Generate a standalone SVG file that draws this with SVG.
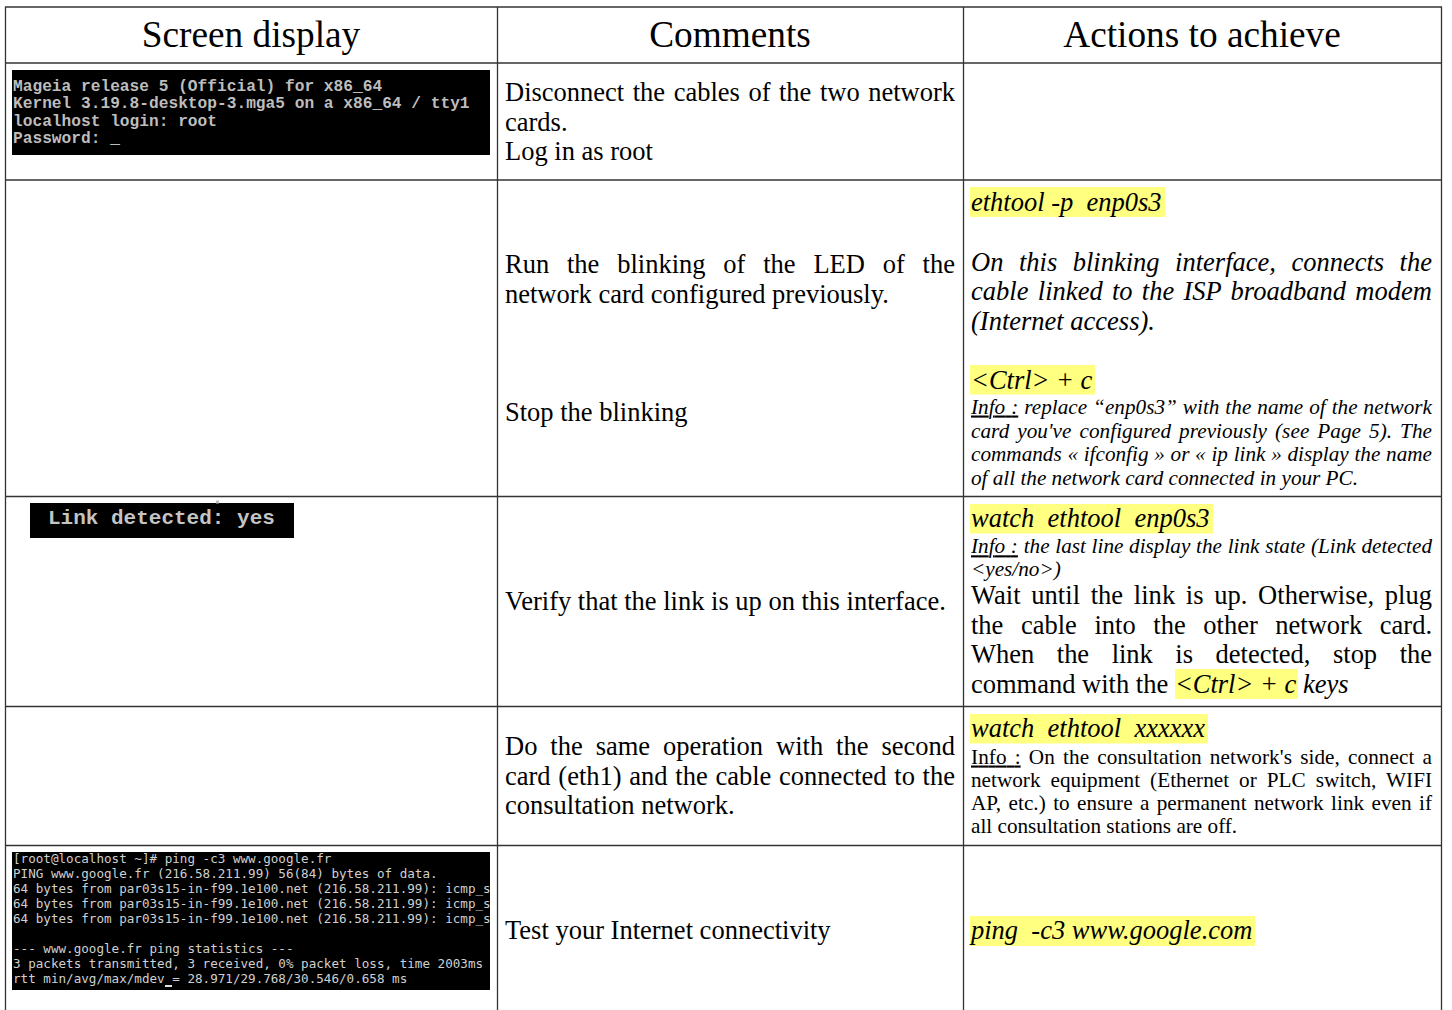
<svg xmlns="http://www.w3.org/2000/svg" width="1452" height="1010" viewBox="0 0 1452 1010">
<style>
.hd{font-family:"Liberation Serif",serif;font-size:37.3px;text-anchor:middle;fill:#000}
.b{font-family:"Liberation Serif",serif;font-size:26.5px;fill:#000}
.bi{font-family:"Liberation Serif",serif;font-size:26.5px;font-style:italic;fill:#000}
.s{font-family:"Liberation Serif",serif;font-size:21.2px;fill:#000}
.si{font-family:"Liberation Serif",serif;font-size:21.2px;font-style:italic;fill:#000}
.u{text-decoration:underline}
.it{font-style:italic}
.hl{fill:#ffff80}
.scr{fill:#000}
.t1{font-family:"Liberation Mono",monospace;font-size:16.2px;font-weight:bold;fill:#bdbdbd}
.t2{font-family:"Liberation Mono",monospace;font-size:21px;font-weight:bold;fill:#c4c4c4}
.t3{font-family:"DejaVu Sans Mono",monospace;font-size:12.6px;fill:#d0d0d0}
.grid line{stroke:#333;stroke-width:1.3}
</style>
<defs>
<clipPath id="pingclip"><rect x="12" y="852" width="478" height="138"/></clipPath>
</defs>
<rect width="1452" height="1010" fill="#fff"/>

<g id="grid" class="grid">
<line x1="5" y1="7" x2="1442" y2="7"/>
<line x1="5" y1="63" x2="1442" y2="63"/>
<line x1="5" y1="180" x2="1442" y2="180"/>
<line x1="5" y1="496.5" x2="1442" y2="496.5"/>
<line x1="5" y1="706.5" x2="1442" y2="706.5"/>
<line x1="5" y1="845.5" x2="1442" y2="845.5"/>
<line x1="5.5" y1="7" x2="5.5" y2="1010"/>
<line x1="497.5" y1="7" x2="497.5" y2="1010"/>
<line x1="963.5" y1="7" x2="963.5" y2="1010"/>
<line x1="1441.5" y1="7" x2="1441.5" y2="1010"/>
</g>

<g id="header">
<text class="hd" x="251" y="47">Screen display</text>
<text class="hd" x="730" y="47">Comments</text>
<text class="hd" x="1202" y="47">Actions to achieve</text>
</g>

<g id="row1">
<rect class="scr" x="12" y="70" width="478" height="85"/>
<text class="t1" x="13" y="90.5">Mageia release 5 (Official) for x86_64</text>
<text class="t1" x="13" y="108">Kernel 3.19.8-desktop-3.mga5 on a x86_64 / tty1</text>
<text class="t1" x="13" y="125.5">localhost login: root</text>
<text class="t1" x="13" y="143">Password: _</text>
<text class="b" x="505" y="101" style="word-spacing:1.9px" textLength="450" lengthAdjust="spacing">Disconnect the cables of the two network</text>
<text class="b" x="505" y="130.5">cards.</text>
<text class="b" x="505" y="160">Log in as root</text>
</g>

<g id="row2">
<text class="b" x="505" y="273.3" style="word-spacing:11.2px" textLength="450" lengthAdjust="spacing">Run the blinking of the LED of the</text>
<text class="b" x="505" y="303.3">network card configured previously.</text>
<text class="b" x="505" y="421">Stop the blinking</text>
<rect class="hl" x="970" y="187" width="195" height="30"/>
<text class="bi" x="971" y="211" xml:space="preserve">ethtool -p  enp0s3</text>
<text class="bi" x="971" y="270.5" style="word-spacing:8.9px" textLength="461" lengthAdjust="spacing">On this blinking interface, connects the</text>
<text class="bi" x="971" y="300" style="word-spacing:2.5px" textLength="461" lengthAdjust="spacing">cable linked to the ISP broadband modem</text>
<text class="bi" x="971" y="329.5">(Internet access).</text>
<rect class="hl" x="970" y="365" width="125" height="29.5"/>
<text class="bi" x="971" y="389">&lt;Ctrl&gt; + c</text>
<text class="si" x="971" y="413.5" style="word-spacing:0.64px" textLength="461" lengthAdjust="spacing"><tspan class="u">Info :</tspan> replace “enp0s3” with the name of the network</text>
<text class="si" x="971" y="437.5" style="word-spacing:2.6px" textLength="461" lengthAdjust="spacing">card you've configured previously (see Page 5). The</text>
<text class="si" x="971" y="461" style="word-spacing:0.42px" textLength="461" lengthAdjust="spacing">commands « ifconfig » or « ip link » display the name</text>
<text class="si" x="971" y="484.5">of all the network card connected in your PC.</text>
</g>

<g id="row3">
<rect class="scr" x="30" y="503" width="264" height="35"/>
<rect x="216" y="500.5" width="3" height="3" fill="#bbb"/>
<text class="t2" x="48" y="524">Link detected: yes</text>
<text class="b" x="505" y="610">Verify that the link is up on this interface.</text>
<rect class="hl" x="970" y="504" width="243" height="29.5"/>
<text class="bi" x="971" y="527" xml:space="preserve">watch  ethtool  enp0s3</text>
<text class="si" x="971" y="553.3" style="word-spacing:0.41px" textLength="461" lengthAdjust="spacing"><tspan class="u">Info :</tspan> the last line display the link state (Link detected</text>
<text class="si" x="971" y="576">&lt;yes/no&gt;)</text>
<text class="b" x="971" y="604" style="word-spacing:3.9px" textLength="461" lengthAdjust="spacing">Wait until the link is up. Otherwise, plug</text>
<text class="b" x="971" y="633.5" style="word-spacing:11px" textLength="461" lengthAdjust="spacing">the cable into the other network card.</text>
<text class="b" x="971" y="663" style="word-spacing:15.9px" textLength="461" lengthAdjust="spacing">When the link is detected, stop the</text>
<rect class="hl" x="1175" y="669" width="123" height="30"/>
<text class="b" x="971" y="692.7" xml:space="preserve">command with the <tspan class="it">&lt;Ctrl&gt; + c</tspan><tspan class="it"> keys</tspan></text>
</g>

<g id="row4">
<text class="b" x="505" y="754.5" style="word-spacing:6.3px" textLength="450" lengthAdjust="spacing">Do the same operation with the second</text>
<text class="b" x="505" y="784.5" style="word-spacing:1.1px" textLength="450" lengthAdjust="spacing">card (eth1) and the cable connected to the</text>
<text class="b" x="505" y="814">consultation network.</text>
<rect class="hl" x="970" y="714" width="238" height="29.5"/>
<text class="bi" x="971" y="737" xml:space="preserve">watch  ethtool  xxxxxx</text>
<text class="s" x="971" y="763.5" style="word-spacing:2.8px" textLength="461" lengthAdjust="spacing"><tspan class="u">Info :</tspan> On the consultation network's side, connect a</text>
<text class="s" x="971" y="786.5" style="word-spacing:4.7px" textLength="461" lengthAdjust="spacing">network equipment (Ethernet or PLC switch, WIFI</text>
<text class="s" x="971" y="809.5" style="word-spacing:1.97px" textLength="461" lengthAdjust="spacing">AP, etc.) to ensure a permanent network link even if</text>
<text class="s" x="971" y="832.5">all consultation stations are off.</text>
</g>

<g id="row5">
<rect class="scr" x="12" y="852" width="478" height="138"/>
<g clip-path="url(#pingclip)">
<text class="t3" x="13" y="862.5">[root@localhost ~]# ping -c3 www.google.fr</text>
<text class="t3" x="13" y="877.5">PING www.google.fr (216.58.211.99) 56(84) bytes of data.</text>
<text class="t3" x="13" y="892.5">64 bytes from par03s15-in-f99.1e100.net (216.58.211.99): icmp_seq=1</text>
<text class="t3" x="13" y="907.5">64 bytes from par03s15-in-f99.1e100.net (216.58.211.99): icmp_seq=2</text>
<text class="t3" x="13" y="922.5">64 bytes from par03s15-in-f99.1e100.net (216.58.211.99): icmp_seq=3</text>
<text class="t3" x="13" y="952.5">--- www.google.fr ping statistics ---</text>
<text class="t3" x="13" y="967.5">3 packets transmitted, 3 received, 0% packet loss, time 2003ms</text>
<text class="t3" x="13" y="982.5">rtt min/avg/max/mdev = 28.971/29.768/30.546/0.658 ms</text>
<rect x="165" y="985" width="7" height="2" fill="#e0e0e0"/>
</g>
<text class="b" x="505" y="939">Test your Internet connectivity</text>
<rect class="hl" x="970" y="916" width="285" height="30"/>
<text class="bi" x="971" y="939" xml:space="preserve">ping  -c3 www.google.com</text>
</g>
</svg>
